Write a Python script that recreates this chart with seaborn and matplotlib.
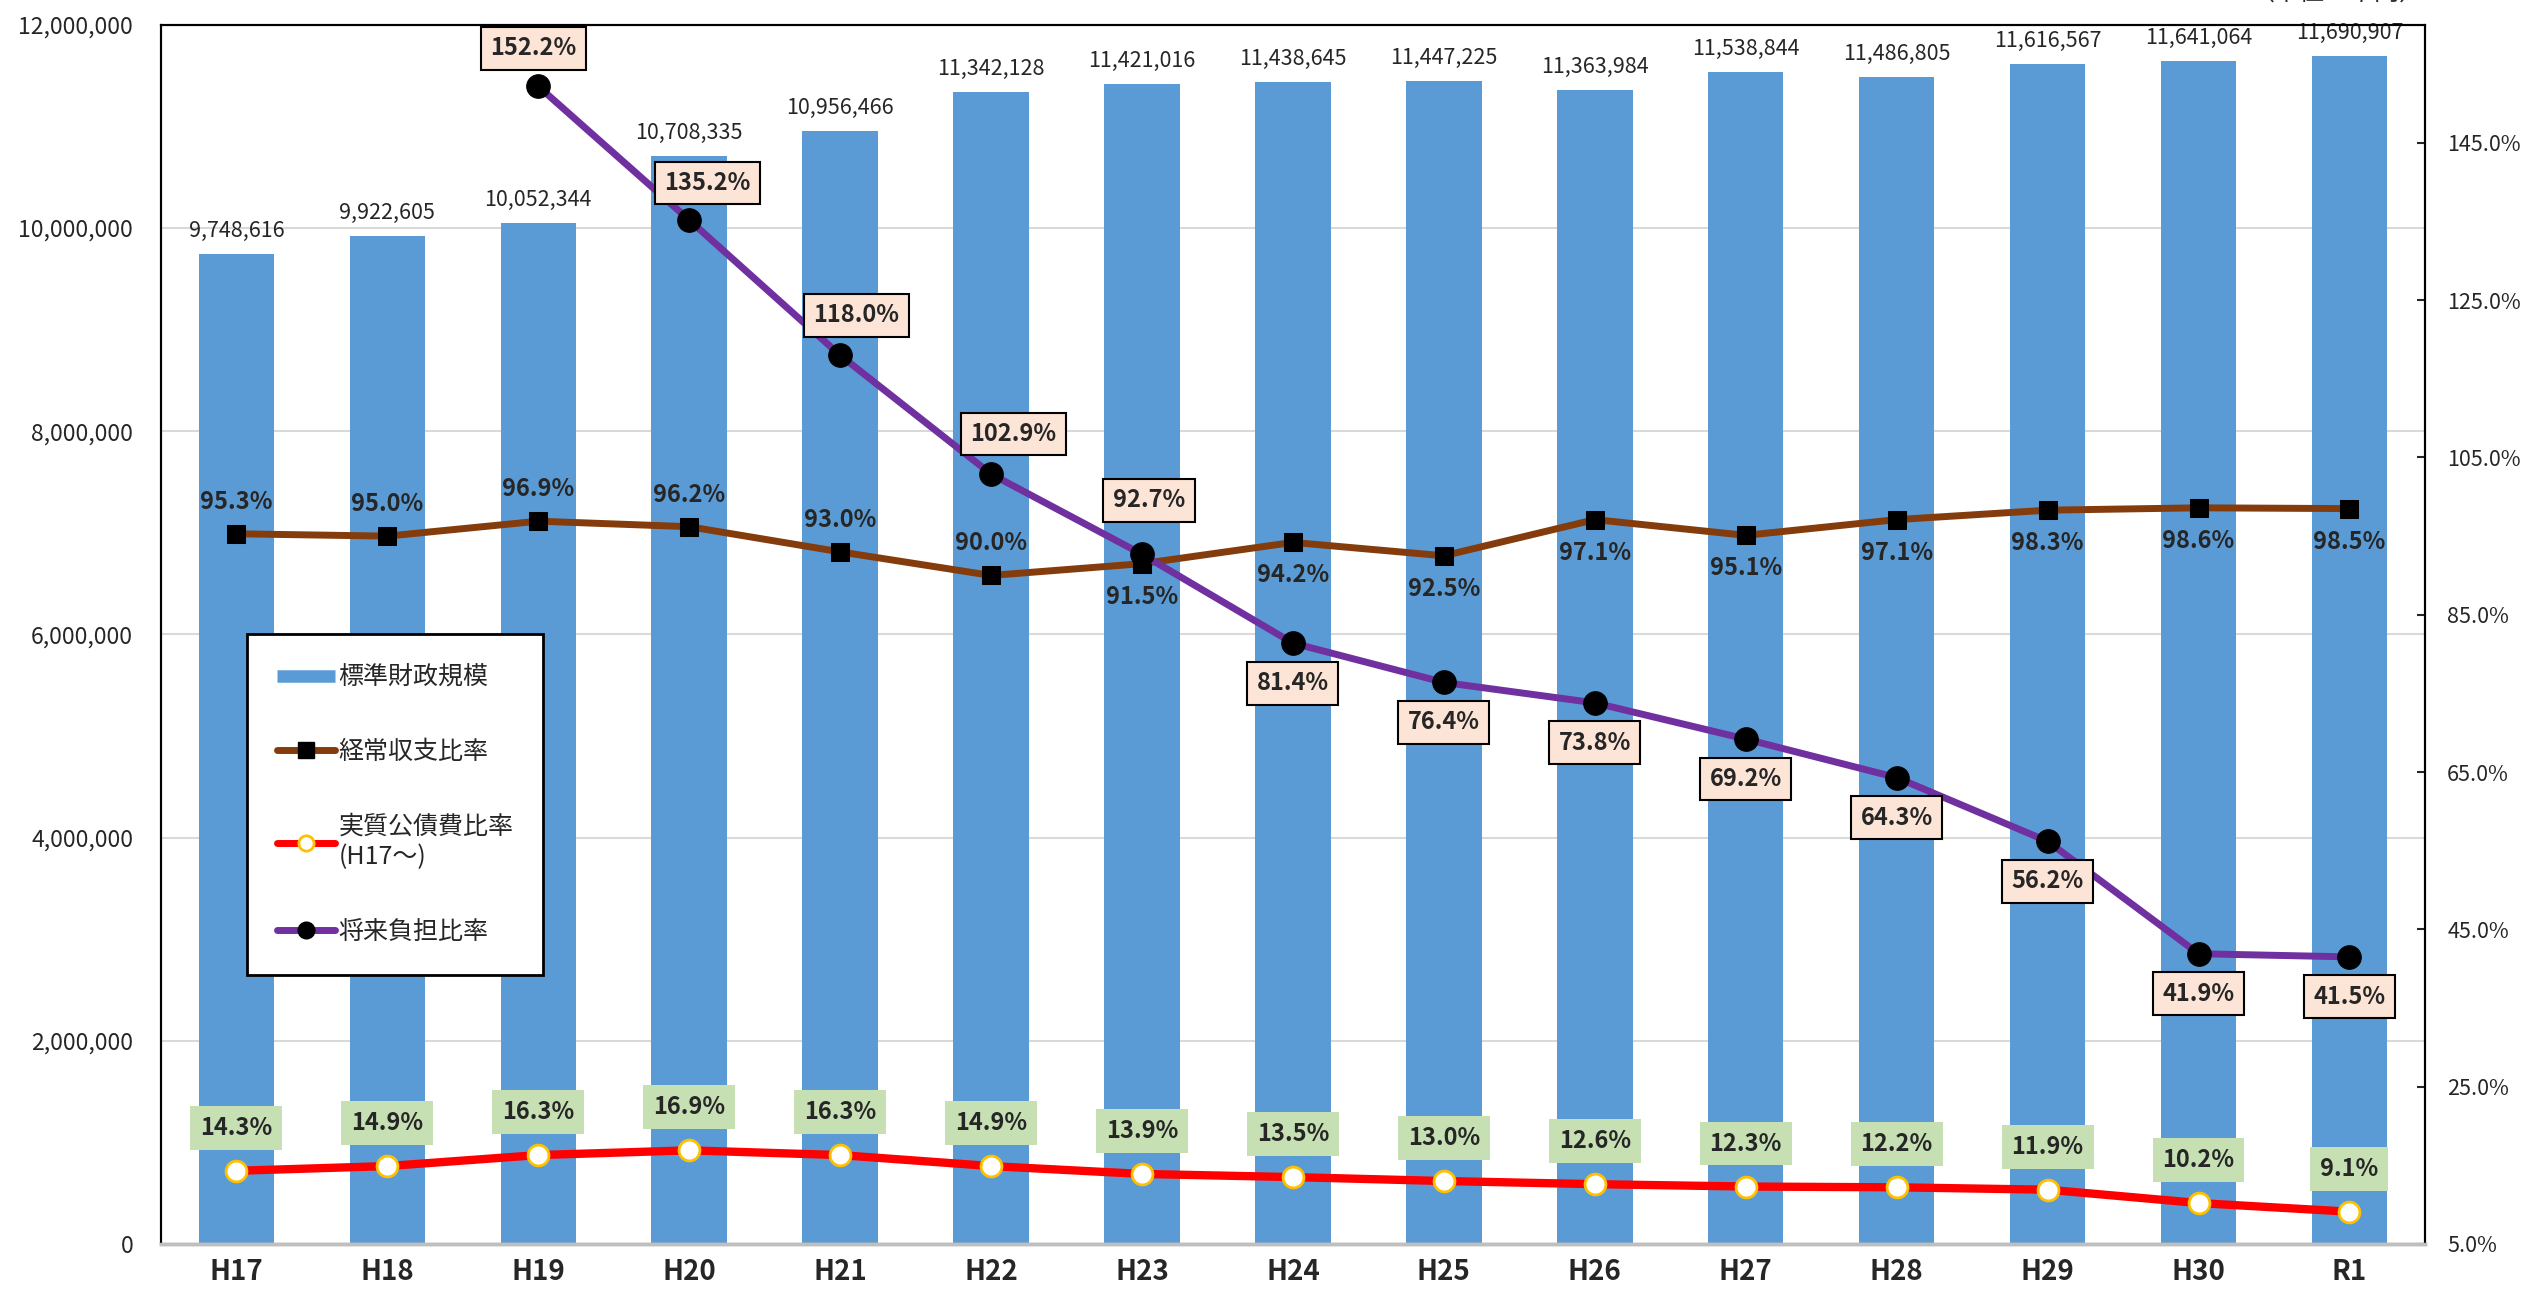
import numpy as np
import pandas as pd
import matplotlib
matplotlib.use("Agg")
import matplotlib.pyplot as plt
from matplotlib.lines import Line2D
import seaborn as sns

# 年度
years = ["H17", "H18", "H19", "H20", "H21", "H22", "H23", "H24",
         "H25", "H26", "H27", "H28", "H29", "H30", "R1"]
# 標準財政規模（千円）
standard_scale = [9748616, 9922605, 10052344, 10708335, 10956466, 11342128, 11421016,
                  11438645, 11447225, 11363984, 11538844, 11486805, 11616567, 11641064, 11690907]
# 経常収支比率（%）
keijo_ratio = [95.3, 95.0, 96.9, 96.2, 93.0, 90.0, 91.5, 94.2, 92.5, 97.1, 95.1, 97.1, 98.3, 98.6, 98.5]
# 実質公債費比率（%）
kosaihi_ratio = [14.3, 14.9, 16.3, 16.9, 16.3, 14.9, 13.9, 13.5, 13.0, 12.6, 12.3, 12.2, 11.9, 10.2, 9.1]
# 将来負担比率（%）H19から
futan_ratio = [np.nan, np.nan, 152.2, 135.2, 118.0, 102.9, 92.7, 81.4, 76.4, 73.8, 69.2, 64.3, 56.2, 41.9, 41.5]

legend_labels = ["標準財政規模", "経常収支比率", "実質公債費比率\n(H17～)", "将来負担比率"]

BLUE = "#5B9BD5"
BROWN = "#843C0C"
RED = "#FF0000"
PURPLE = "#7030A0"

sns.set_theme(style="white")
plt.rcParams["font.family"] = ["Noto Sans CJK JP", "DejaVu Sans"]

df = pd.DataFrame({"pos": np.arange(len(years)), "scale": standard_scale,
                   "keijo": keijo_ratio, "kosaihi": kosaihi_ratio, "futan": futan_ratio})

fig, ax = plt.subplots(figsize=(25.22, 12.92), dpi=100)
fig.subplots_adjust(left=0.0638, right=0.9615, bottom=0.0372, top=0.9807)

sns.barplot(data=df, x="pos", y="scale", color=BLUE, saturation=1, width=0.5,
            linewidth=0, ax=ax, zorder=2)
ax.set_ylim(0, 12000000)
ax.set_yticks(np.arange(0, 12000001, 2000000))
ax.set_yticklabels([f"{v:,.0f}" for v in np.arange(0, 12000001, 2000000)], fontsize=16.5)
ax.yaxis.grid(True, color="#D9D9D9", linewidth=1.5)
ax.set_axisbelow(True)
ax.tick_params(axis="y", length=0, pad=20)
ax.set_xlabel("")
ax.set_ylabel("")

for i, v in enumerate(standard_scale):
    ax.annotate(f"{v:,}", (i, v), xytext=(0, 12), textcoords="offset pixels",
                ha="center", va="bottom", fontsize=15.5)

ax2 = ax.twinx()
sns.lineplot(data=df, x="pos", y="kosaihi", ax=ax2, color=RED, linewidth=6,
             marker="o", markersize=15, markerfacecolor="white",
             markeredgecolor="#FFC000", markeredgewidth=2, zorder=3)
sns.lineplot(data=df, x="pos", y="keijo", ax=ax2, color=BROWN, linewidth=5,
             marker="s", markersize=13.5, markerfacecolor="black",
             markeredgecolor="black", zorder=4)
sns.lineplot(data=df.dropna(subset=["futan"]), x="pos", y="futan", ax=ax2, color=PURPLE,
             linewidth=5, marker="o", markersize=17, markerfacecolor="black",
             markeredgecolor="black", zorder=5)

ax2.set_ylim(5, 160)
ax2.set_yticks(np.arange(5, 146, 20))
ax2.set_yticklabels([f"{v:.1f}%" for v in np.arange(5, 146, 20)], fontsize=15.5)
ax2.tick_params(axis="y", direction="in", length=6, width=1.5, pad=16, right=True)
ax2.set_xlabel("")
ax2.set_ylabel("")

ax.set_xlim(-0.5, len(years) - 0.5)
ax.set_xticks(np.arange(len(years)))
ax.set_xticklabels(years, fontsize=20, fontweight="bold")
ax.tick_params(axis="x", length=0, pad=10)

for a in (ax, ax2):
    for side in ("left", "right", "top"):
        a.spines[side].set_color("black")
        a.spines[side].set_linewidth(1.5)
    a.spines["bottom"].set_color("#BFBFBF")
    a.spines["bottom"].set_linewidth(2.5)

# 実質公債費比率ラベル
for i, v in enumerate(kosaihi_ratio):
    ax2.annotate(f"{v:.1f}%", (i, v), xytext=(0, 43), textcoords="offset pixels",
                 ha="center", va="center", fontsize=17, fontweight="bold", zorder=6,
                 bbox=dict(boxstyle="square,pad=0.42", fc="#C6E0B4", ec="none"))

# 経常収支比率ラベル
for i, v in enumerate(keijo_ratio):
    dy = 32 if i <= 5 else -33
    ax2.annotate(f"{v:.1f}%", (i, v), xytext=(0, dy), textcoords="offset pixels",
                 ha="center", va="center", fontsize=17, fontweight="bold", zorder=6)

# 将来負担比率ラベル
futan_offsets = {2: (-5, 38), 3: (18, 37), 4: (16, 40), 5: (22, 40), 6: (7, 54)}
for i, v in enumerate(futan_ratio):
    if np.isnan(v):
        continue
    off = futan_offsets.get(i, (0, -40))
    ax2.annotate(f"{v:.1f}%", (i, v), xytext=off, textcoords="offset pixels",
                 ha="center", va="center", fontsize=17, fontweight="bold", zorder=7,
                 bbox=dict(boxstyle="square,pad=0.4", fc="#FCE4D6", ec="black", lw=1.5))

handles = [
    Line2D([], [], color=BLUE, linewidth=9, solid_capstyle="butt"),
    Line2D([], [], color=BROWN, linewidth=5, marker="s", markersize=11,
           markerfacecolor="black", markeredgecolor="black"),
    Line2D([], [], color=RED, linewidth=5, marker="o", markersize=11,
           markerfacecolor="white", markeredgecolor="#FFC000", markeredgewidth=2),
    Line2D([], [], color=PURPLE, linewidth=5, marker="o", markersize=12,
           markerfacecolor="black", markeredgecolor="black"),
]
leg = ax2.legend(handles, legend_labels, loc="center", bbox_to_anchor=(0.1035, 0.3605),
                 frameon=True, fancybox=False, edgecolor="black", framealpha=1,
                 fontsize=18, handlelength=2.3, handletextpad=0.15, borderpad=1.2,
                 labelspacing=1.95, borderaxespad=0)
leg.get_frame().set_linewidth(2)
leg.set_zorder(10)

fig.text(0.9267, 1 - 6 / 1292, "（単位：千円）", ha="center", va="bottom", fontsize=18)

fig.savefig("out.png", dpi=100)
